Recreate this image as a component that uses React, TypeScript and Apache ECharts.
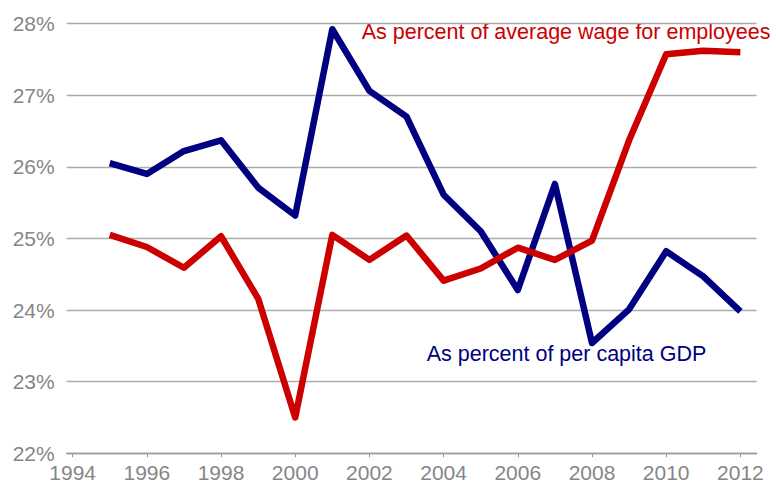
import React, { useEffect, useRef } from "react";
import * as echarts from "echarts";

const years = [1995, 1996, 1997, 1998, 1999, 2000, 2001, 2002, 2003, 2004, 2005, 2006, 2007, 2008, 2009, 2010, 2011, 2012];
const perCapitaGdp = [26.05, 25.9, 26.22, 26.37, 25.71, 25.32, 27.92, 27.06, 26.7, 25.61, 25.1, 24.28, 25.76, 23.54, 24.01, 24.82, 24.47, 23.98];
const avgWage = [25.05, 24.88, 24.59, 25.03, 24.16, 22.5, 25.05, 24.7, 25.04, 24.41, 24.58, 24.87, 24.7, 24.97, 26.37, 27.57, 27.62, 27.6];
const xTicks = [1994, 1996, 1998, 2000, 2002, 2004, 2006, 2008, 2010, 2012];
const yTicks = [22, 23, 24, 25, 26, 27, 28];
const wageLabel = "As percent of average wage for employees";
const gdpLabel = "As percent of per capita GDP";

export default function App() {
  const ref = useRef<HTMLDivElement>(null);
  useEffect(() => {
    if (!ref.current) return;
    const chart = echarts.init(ref.current, null, { renderer: "svg" });
    const font = "'Liberation Sans', Arial, sans-serif";
    chart.setOption({
      animation: false,
      grid: { left: 66.7, right: 19.3, top: 23.5, bottom: 33.7, containLabel: false },
      xAxis: {
        type: "value",
        min: 1993.84,
        max: 2012.44,
        splitLine: { show: false },
        axisLine: { show: true, lineStyle: { color: "#999999", width: 1.3 } },
        axisTick: { show: true, customValues: xTicks, length: 4, lineStyle: { color: "#999999" } },
        axisLabel: {
          customValues: xTicks,
          color: "#868686",
          fontSize: 21,
          fontFamily: font,
          margin: 9,
          formatter: (v: number) => String(v),
        },
      },
      yAxis: {
        type: "value",
        min: 22,
        max: 28,
        interval: 1,
        axisLine: { show: false },
        axisTick: { show: false },
        splitLine: { show: true, lineStyle: { color: "#ABABAB", width: 1.3 } },
        axisLabel: {
          color: "#868686",
          fontSize: 21,
          fontFamily: font,
          margin: 12,
          formatter: (v: number) => (yTicks.includes(v) ? v + "%" : ""),
        },
      },
      series: [
        {
          type: "line",
          name: gdpLabel,
          data: years.map((y, i) => [y, perCapitaGdp[i]]),
          showSymbol: false,
          lineStyle: { color: "#000080", width: 6.5, join: "round" },
          itemStyle: { color: "#000080" },
        },
        {
          type: "line",
          name: wageLabel,
          data: years.map((y, i) => [y, avgWage[i]]),
          showSymbol: false,
          lineStyle: { color: "#CC0000", width: 6.5, join: "round" },
          itemStyle: { color: "#CC0000" },
        },
      ],
      graphic: [
        {
          type: "text",
          left: 361.7,
          top: 21,
          style: { text: wageLabel, fill: "#CC0000", fontSize: 21.5, fontFamily: font },
        },
        {
          type: "text",
          left: 426.7,
          top: 343,
          style: { text: gdpLabel, fill: "#000080", fontSize: 21.5, fontFamily: font },
        },
      ],
    });
    return () => chart.dispose();
  }, []);
  return <div ref={ref} style={{ width: 776, height: 487, position: "absolute", left: 0, top: 0 }} />;
}
